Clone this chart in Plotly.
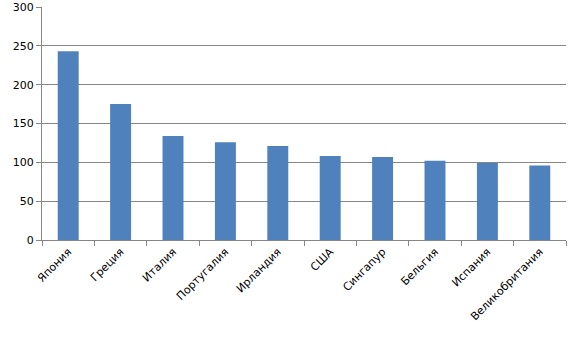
import plotly.graph_objects as go

countries = ["Япония", "Греция", "Италия", "Португалия", "Ирландия", "США",
             "Сингапур", "Бельгия", "Испания", "Великобритания"]
values = [243, 175, 134, 126, 121, 108, 107, 102, 99, 96]

fig = go.Figure(go.Bar(x=countries, y=values, marker=dict(color="#4F81BD", line=dict(width=0)),
                       width=0.4))

axis_color = "#868686"
fig.update_layout(
    width=576, height=337,
    margin=dict(l=42, r=10, t=7, b=97),
    paper_bgcolor="white", plot_bgcolor="white",
    showlegend=False,
    font=dict(family="DejaVu Sans", size=11, color="#000000"),
)
fig.update_yaxes(range=[0, 300], dtick=50, showgrid=True, gridcolor=axis_color, gridwidth=1,
                 showline=True, linecolor=axis_color, linewidth=1, automargin=False,
                 ticks="outside", ticklen=5, tickcolor=axis_color, zeroline=False,
                 tickfont=dict(size=11))
fig.update_xaxes(showline=True, linecolor=axis_color, linewidth=1, tickangle=-45, automargin=False,
                 ticks="outside", ticklen=5, tickcolor=axis_color, tickson="boundaries",
                 tickfont=dict(size=11), range=[-0.5, 9.5])

fig.write_html("out.html")
